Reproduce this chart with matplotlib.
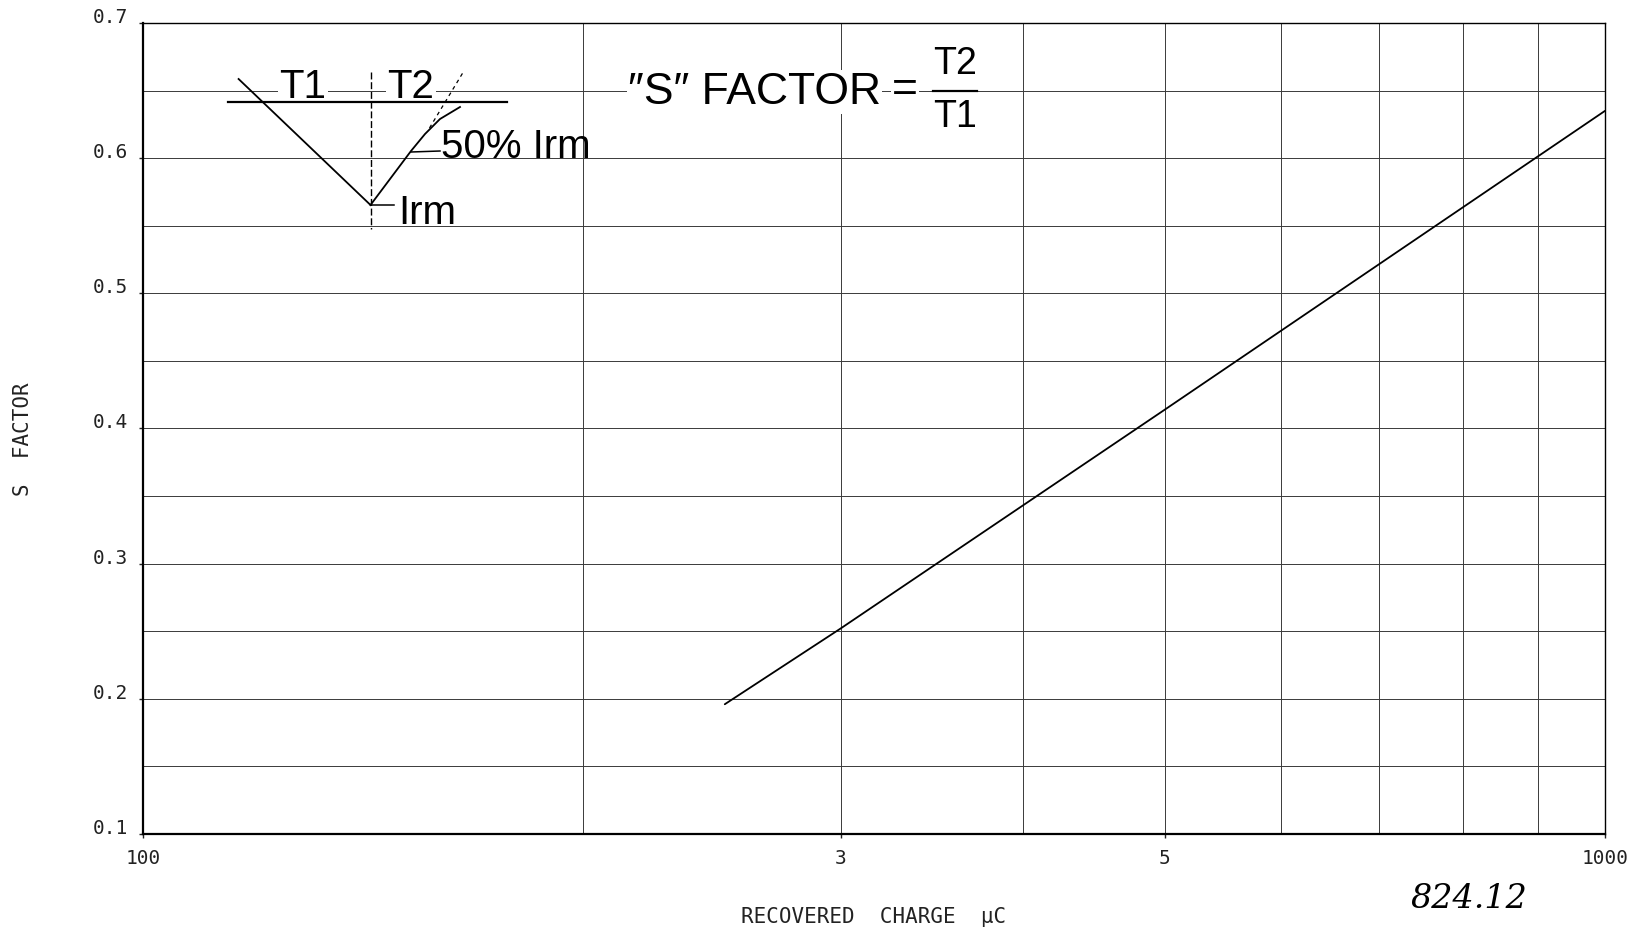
"""S factor vs recovered charge - replot of the scanned datasheet curve."""

import matplotlib
matplotlib.use("Agg")
import matplotlib.pyplot as plt
from matplotlib.ticker import FixedLocator, FixedFormatter

# -----------------------------------------------------------------------------
# data
# -----------------------------------------------------------------------------
charge_uc = [250, 300, 500, 1000]
s_factor = [0.196, 0.252, 0.414, 0.635]

x_major = [100, 300, 500, 1000]
x_major_labels = ["100", "3", "5", "1000"]
x_minor = [200, 400, 600, 700, 800, 900]
y_major = [0.1, 0.2, 0.3, 0.4, 0.5, 0.6, 0.7]
y_major_labels = ["0.1", "0.2", "0.3", "0.4", "0.5", "0.6", "0.7"]
y_minor = [0.15, 0.25, 0.35, 0.45, 0.55, 0.65]

W, H = 1639, 935
MONO = "DejaVu Sans Mono"
SANS = ["Liberation Sans", "DejaVu Sans"]


def fx(px):
	return px / W


def fy(py):
	return 1 - py / H


fig = plt.figure(figsize=(W / 100, H / 100), dpi=100)
ax = fig.add_axes([fx(143), fy(834), (1605 - 143) / W, (834 - 23) / H])

ax.plot(charge_uc, s_factor, color="black", lw=1.3, solid_capstyle="round")

ax.set_xscale("log")
ax.set_xlim(100, 1000)
ax.set_ylim(0.1, 0.7)

ax.xaxis.set_major_locator(FixedLocator(x_major))
ax.xaxis.set_major_formatter(FixedFormatter(x_major_labels))
ax.xaxis.set_minor_locator(FixedLocator(x_minor))
ax.xaxis.set_minor_formatter(FixedFormatter([""] * len(x_minor)))
ax.yaxis.set_major_locator(FixedLocator(y_major))
ax.yaxis.set_major_formatter(FixedFormatter(y_major_labels))
ax.yaxis.set_minor_locator(FixedLocator(y_minor))

ax.grid(True, which="both", color="#3a3a3a", lw=0.7)
ax.set_axisbelow(True)

for side in ("left", "bottom"):
	ax.spines[side].set_linewidth(1.6)
for side in ("top", "right"):
	ax.spines[side].set_linewidth(1.0)

ax.tick_params(which="major", length=3, width=1, direction="out", pad=8,
			   labelsize=14, colors="#222222")
ax.tick_params(which="minor", length=0)
for lab in ax.get_xticklabels() + ax.get_yticklabels():
	lab.set_family(MONO)
for lab in ax.get_yticklabels():
	lab.set_verticalalignment("baseline")

# axis titles
fig.text(fx(874), fy(917), "RECOVERED  CHARGE  \u03bcC", ha="center", va="center",
		 family=MONO, fontsize=15, color="#222222")
fig.text(fx(23), fy(439), "S  FACTOR", ha="center", va="center", rotation=90,
		 family=MONO, fontsize=15, color="#222222")

# handwritten note
fig.text(fx(1469), fy(899), "824.12", ha="center", va="center",
		 family="DejaVu Serif", style="italic", fontsize=24)

# -----------------------------------------------------------------------------
# waveform sketch (axes fraction)
# -----------------------------------------------------------------------------
def ax_pt(px, py):
	return ((px - 143) / 1462, (834 - py) / 811)


def seg(points, **kw):
	xs, ys = zip(*[ax_pt(*p) for p in points])
	ax.plot(xs, ys, transform=ax.transAxes, clip_on=False, color="black",
			zorder=5, **kw)


white = dict(fc="white", ec="none", pad=1)

seg([(228, 101.7), (507, 101.7)], lw=1.6)
seg([(370.5, 72), (370.5, 229)], lw=1.0, ls=(0, (5, 2)))
seg([(238.6, 79), (370.5, 205)], lw=1.3)
seg([(370.5, 205), (393, 175), (411, 151), (425, 134), (440, 119), (460, 107)], lw=1.3)
seg([(429.5, 128), (462.7, 73)], lw=0.9, ls=(0, (3, 3)))
seg([(370.5, 205), (394, 205)], lw=1.1)
seg([(411, 152), (440, 151)], lw=1.1)

ax.text(*ax_pt(303, 87), "T1", transform=ax.transAxes, ha="center", va="center",
		family=SANS, fontsize=29, bbox=white, zorder=3)
ax.text(*ax_pt(411, 87), "T2", transform=ax.transAxes, ha="center", va="center",
		family=SANS, fontsize=29, bbox=white, zorder=3)
ax.text(*ax_pt(441, 147), "50% Irm", transform=ax.transAxes, ha="left", va="center",
		family=SANS, fontsize=29, zorder=3)
ax.text(*ax_pt(398, 213), "Irm", transform=ax.transAxes, ha="left", va="center",
		family=SANS, fontsize=29, zorder=3)

# "S" factor definition
ax.text(*ax_pt(628, 92), "\u2033S\u2033 FACTOR", transform=ax.transAxes,
		ha="left", va="center", family=SANS, fontsize=32, bbox=white, zorder=3)
ax.text(*ax_pt(905, 91), "=", transform=ax.transAxes,
		ha="center", va="center", family=SANS, fontsize=32, bbox=white, zorder=3)
seg([(933, 91), (977, 91)], lw=1.6)
ax.text(*ax_pt(955, 64), "T2", transform=ax.transAxes, ha="center", va="center",
		family=SANS, fontsize=27, bbox=white, zorder=3)
ax.text(*ax_pt(955, 117), "T1", transform=ax.transAxes, ha="center", va="center",
		family=SANS, fontsize=27, bbox=white, zorder=3)

fig.savefig("out.png", dpi=100, facecolor="white")
